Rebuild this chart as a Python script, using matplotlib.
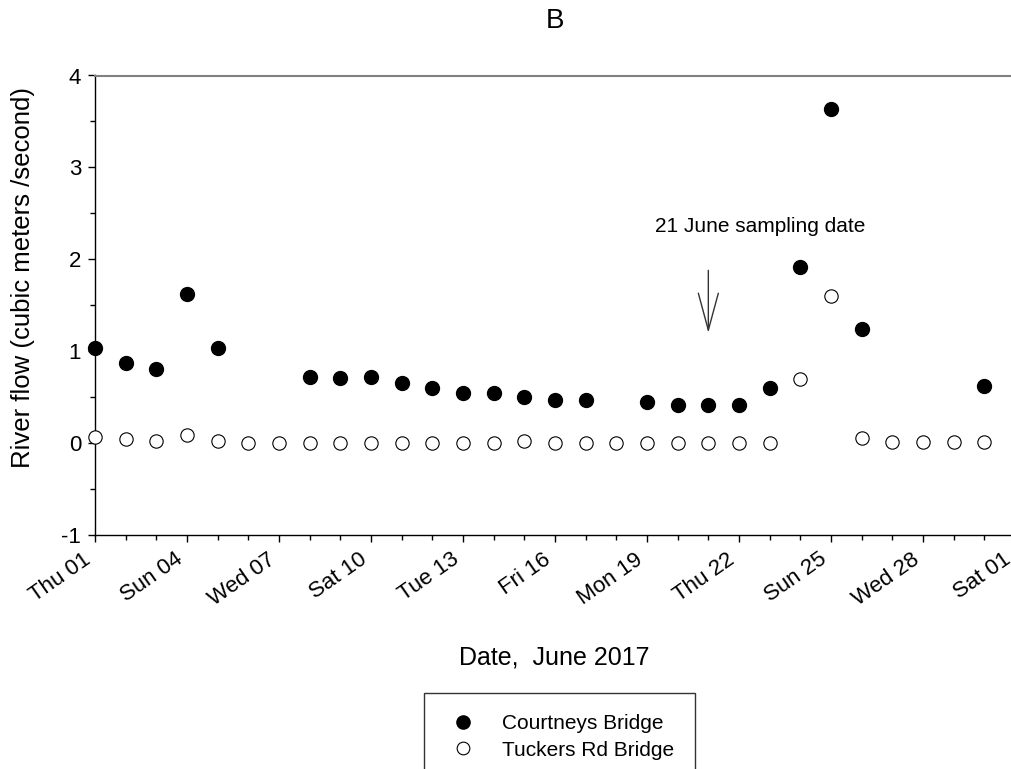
import matplotlib
matplotlib.use("Agg")
import matplotlib.pyplot as plt
import matplotlib.dates as mdates
import numpy as np
import datetime as dt

plt.rcParams['font.family'] = ['Liberation Sans', 'DejaVu Sans']

# ---- data ----
courtneys_days = [1, 2, 3, 4, 5, 8, 9, 10, 11, 12, 13, 14, 15, 16, 17, 19, 20, 21, 22, 23, 24, 25, 26, 30]
courtneys_flow = [1.03, 0.87, 0.81, 1.62, 1.04, 0.72, 0.71, 0.72, 0.65, 0.60, 0.54, 0.54, 0.50, 0.47, 0.47,
                  0.45, 0.42, 0.42, 0.41, 0.60, 1.92, 3.64, 1.24, 0.62]
tuckers_days = list(range(1, 31))
tuckers_flow = [0.065, 0.04, 0.02, 0.085, 0.02, 0.0, 0.0, 0.0, 0.0, 0.0, 0.0, 0.0, 0.0, 0.0, 0.02,
                0.0, 0.0, 0.0, 0.0, 0.0, 0.0, 0.0, 0.0, 0.70, 1.60, 0.055, 0.013, 0.013, 0.013, 0.013]
tick_dates = ["2017-06-01", "2017-06-04", "2017-06-07", "2017-06-10", "2017-06-13", "2017-06-16",
              "2017-06-19", "2017-06-22", "2017-06-25", "2017-06-28", "2017-07-01"]
tick_labels = ["Thu 01", "Sun 04", "Wed 07", "Sat 10", "Tue 13", "Fri 16",
               "Mon 19", "Thu 22", "Sun 25", "Wed 28", "Sat 01"]
sampling_date = "2017-06-21"

def june(d):
    return dt.datetime(2017, 6, 1) + dt.timedelta(days=d - 1)

cx = [june(d) for d in courtneys_days]
tx = [june(d) for d in tuckers_days]
ticks = [dt.datetime.strptime(s, "%Y-%m-%d") for s in tick_dates]
samp = dt.datetime.strptime(sampling_date, "%Y-%m-%d")

W, H = 1011, 769
fig = plt.figure(figsize=(W / 100, H / 100), dpi=100)
ax = fig.add_axes([95 / W, 1 - 535 / H, (1015 - 95) / W, (535 - 75.5) / H])

ax.plot(cx, courtneys_flow, linestyle='none', marker='o', markersize=10,
        markerfacecolor='black', markeredgecolor='black', label='Courtneys Bridge', clip_on=False, zorder=3)
ax.plot(tx, tuckers_flow, linestyle='none', marker='o', markersize=9.6,
        markerfacecolor='white', markeredgecolor='black', markeredgewidth=0.8,
        label='Tuckers Rd Bridge', clip_on=False, zorder=3)

ax.set_xlim(ticks[0], ticks[-1])
ax.set_ylim(-1, 4)
ax.set_xticks(ticks)
ax.set_xticklabels(tick_labels, rotation=35, ha='right', fontsize=16)
ax.xaxis.set_minor_locator(mdates.DayLocator())
ax.set_yticks([-1, 0, 1, 2, 3, 4])
ax.set_yticklabels(["-1", "0", "1", "2", "3", "4"], fontsize=16)
ax.set_yticks(np.arange(-1, 4.01, 0.5), minor=True)
ax.tick_params(axis='both', which='major', direction='out', length=5, width=1, color='black', pad=5)
ax.tick_params(axis='both', which='minor', direction='out', length=3.5, width=1, color='black')
ax.tick_params(axis='x', which='major', pad=5)

ax.spines['right'].set_visible(False)
ax.spines['top'].set_color('#808080')
ax.spines['top'].set_linewidth(1.5)
for s in ('left', 'bottom'):
    ax.spines[s].set_linewidth(1)
    ax.spines[s].set_color('black')

ax.annotate('', xy=(samp, 1.20), xytext=(samp, 1.88),
            arrowprops=dict(arrowstyle='->,head_length=2.66,head_width=0.72', lw=1,
                            color='#333333', shrinkA=0, shrinkB=0, mutation_scale=10))
ax.text(june(22.7), 2.36, "21 June sampling date", ha='center', va='center', fontsize=15)

fig.text(555 / W, 1 - 20.5 / H, "B", ha='center', va='center', fontsize=20)
fig.text(23 / W, 1 - 277.5 / H, "River flow (cubic meters /second)", rotation=90,
         ha='center', va='center', fontsize=18.5)
fig.text(554 / W, 1 - 665 / H, "Date,  June 2017", ha='center', va='baseline', fontsize=18)

leg = fig.legend(loc='upper left', bbox_to_anchor=(424 / W, 1 - 693 / H), fontsize=15,
                 frameon=True, fancybox=False, borderaxespad=0, borderpad=1.0,
                 handlelength=1.78, handletextpad=0.96, labelspacing=0.37, markerscale=0.95)
leg.get_frame().set_edgecolor('black')
leg.get_frame().set_linewidth(1)

fig.savefig("out.png", dpi=100)
